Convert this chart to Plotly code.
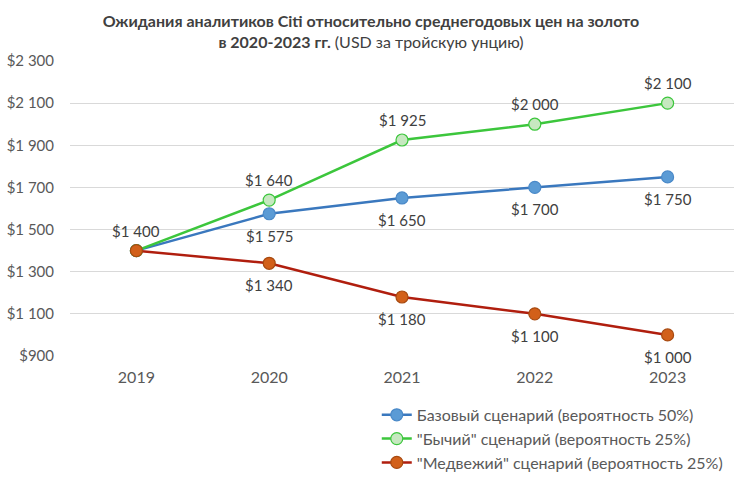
import plotly.graph_objects as go

years = ["2019", "2020", "2021", "2022", "2023"]
base = [1400, 1575, 1650, 1700, 1750]
bull = [1400, 1640, 1925, 2000, 2100]
bear = [1400, 1340, 1180, 1100, 1000]
names = ["Базовый сценарий (вероятность 50%)",
         "\"Бычий\" сценарий (вероятность 25%)",
         "\"Медвежий\" сценарий (вероятность 25%)"]
tick_vals = [900, 1100, 1300, 1500, 1700, 1900, 2100, 2300]

# which points get a data label, and on which side (+1 above, -1 below)
base_lbl = [0, -1, -1, -1, -1]
bull_lbl = [1, 1, 1, 1, 1]
bear_lbl = [0, -1, -1, -1, -1]

def fmt(v):
    return "$" + f"{v:,}".replace(",", " ")

FONT = "Lato, 'Open Sans', sans-serif"
fig = go.Figure()

series = [
    (base, names[0], "#3A78BE", "#5B9BD5", "#4A89C8", base_lbl),
    (bull, names[1], "#3CC63C", "#C6E8C0", "#3CC63C", bull_lbl),
    (bear, names[2], "#B01E0E", "#D2601A", "#A84A10", bear_lbl),
]
for vals, nm, lc, mc, mlc, lbl in series:
    fig.add_trace(go.Scatter(
        x=years, y=vals, name=nm, mode="lines+markers",
        line=dict(color=lc, width=2.5),
        marker=dict(size=12, color=mc, line=dict(color=mlc, width=1.2))))
    for i, (yv, side) in enumerate(zip(vals, lbl)):
        if side == 0:
            continue
        fig.add_annotation(x=i, y=yv, text=fmt(yv), showarrow=False,
                           xref="x", yref="y",
                           yshift=20 if side > 0 else -22,
                           xanchor="center", yanchor="middle",
                           font=dict(size=15, color="#404040", family=FONT))

fig.update_layout(
    width=742, height=488,
    paper_bgcolor="white", plot_bgcolor="white",
    margin=dict(l=70, r=8, t=61, b=132),
    font=dict(family=FONT, color="#595959", size=16),
    title=dict(
        text="<b>Ожидания аналитиков Citi относительно среднегодовых цен на золото</b><br>"
             "<b>в 2020-2023 гг.</b> (USD за тройскую унцию)",
        x=0.5, xanchor="center", y=0.944, yanchor="top",
        font=dict(size=16, color="#404040", family=FONT)),
    xaxis=dict(type="category", range=[-0.5, 4.5], showgrid=False,
               showline=False, ticks="", ticklabelstandoff=10, automargin=False,
               tickfont=dict(size=16, color="#595959")),
    yaxis=dict(range=[900, 2300], tickvals=tick_vals,
               ticktext=[fmt(v) for v in tick_vals],
               showgrid=True, gridcolor="#D9D9D9", gridwidth=1,
               zeroline=False, showline=False, ticks="", ticklabelstandoff=15,
               automargin=False,
               tickfont=dict(size=15, color="#595959")),
    legend=dict(x=0.462, y=-0.142, xanchor="left", yanchor="top",
                font=dict(size=16, color="#595959"),
                itemwidth=30, bgcolor="rgba(0,0,0,0)"),
    showlegend=True,
)
fig.write_html("out.html", config={"displayModeBar": False},
               post_script="document.body.style.margin='0px';document.body.style.overflow='hidden';")
